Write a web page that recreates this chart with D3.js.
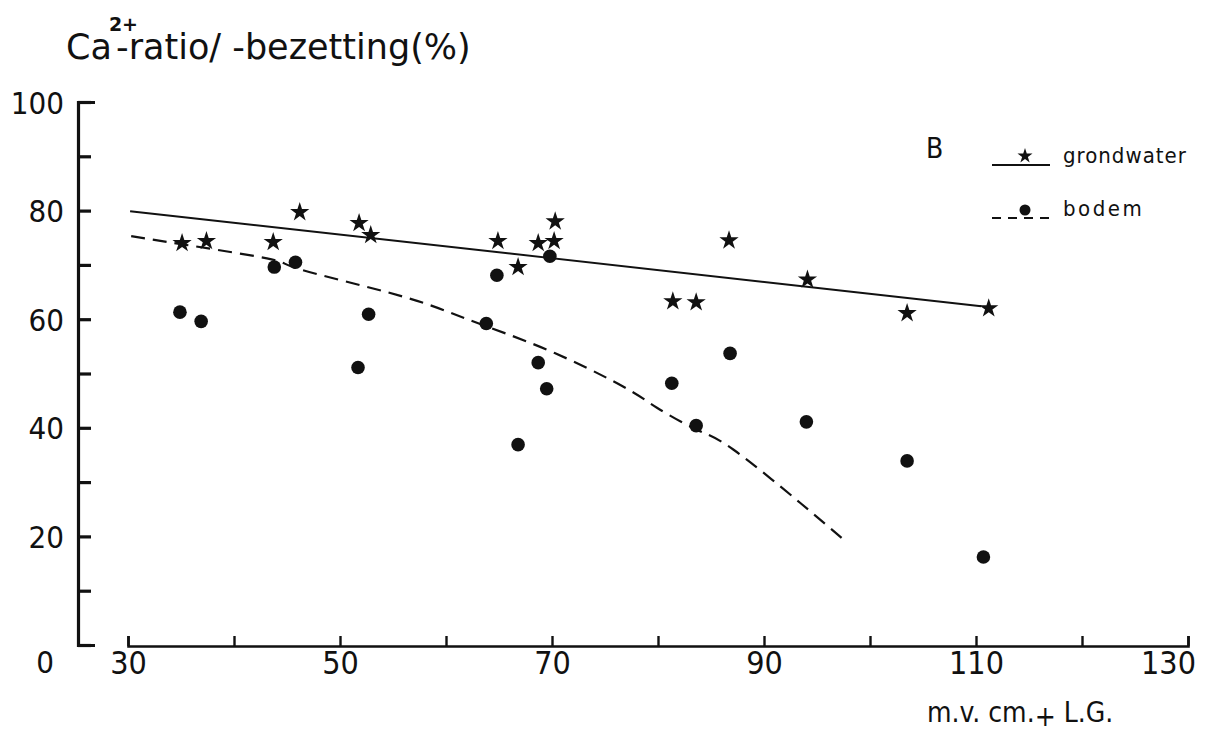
<!DOCTYPE html>
<html>
<head>
<meta charset="utf-8">
<script src="https://cdn.jsdelivr.net/npm/d3@7"></script>
<style>
    body { margin: 0; background: #fff; }
    svg { display: block; }
    .lbl { font-family: 'DejaVu Sans Condensed', 'Liberation Sans Narrow', sans-serif; fill: #111; }
    .ttl { font-family: 'DejaVu Sans', sans-serif; fill: #111; }
</style>
</head>
<body>
<div id="chart"></div>
<script>
    // grondwater (stars)
    let waterX = [35.1, 37.4, 43.7, 46.2, 51.8, 52.9, 64.9, 66.8, 68.7, 70.3, 70.2, 81.4, 83.6, 86.7, 94.1, 103.5, 111.2];
    let waterY = [74.0, 74.4, 74.2, 79.7, 77.7, 75.5, 74.4, 69.6, 74.0, 78.0, 74.4, 63.3, 63.1, 74.5, 67.3, 61.1, 62.0];
    // bodem (dots)
    let soilX = [34.9, 36.9, 43.8, 45.8, 52.7, 51.7, 63.8, 64.8, 66.8, 68.7, 69.5, 69.8, 81.3, 83.6, 86.8, 94.0, 103.5, 110.7];
    let soilY = [61.3, 59.6, 69.6, 70.5, 60.9, 51.1, 59.2, 68.1, 36.9, 52.0, 47.2, 71.6, 48.2, 40.4, 53.7, 41.1, 33.9, 16.2];
    // fitted lines as drawn
    let waterFitX = [30.2, 110.5];
    let waterFitY = [79.9, 62.4];
    let soilFitX = [30.3, 33.8, 43.1, 46.2, 55.7, 62.0, 69.5, 76.7, 79.9, 83.6, 87.1, 93.4, 97.4];
    let soilFitY = [75.3, 74.2, 71.2, 69.2, 64.3, 60.0, 54.4, 47.6, 43.7, 39.7, 36.0, 26.2, 19.6];
    let xTicks = [30, 40, 50, 60, 70, 80, 90, 100, 110, 120, 130];
    let yTicks = [0, 10, 20, 30, 40, 50, 60, 70, 80, 90, 100];

    let width = 1209, height = 735;
    let svg = d3.select('#chart')
        .append('svg')
        .attr('width', width)
        .attr('height', height);

    let x = d3.scaleLinear().domain([30, 130]).range([128, 1188]);
    let y = d3.scaleLinear().domain([0, 100]).range([645, 102]);

    // y axis: ticks point inward, labels on the left
    let yAxis = svg.append('g')
        .attr('transform', 'translate(78,0)')
        .call(d3.axisLeft(y)
            .tickValues(yTicks)
            .tickSizeInner(-13)
            .tickSizeOuter(-17)
            .tickPadding(14)
            .tickFormat(d => d % 20 === 0 ? d : ''));
    yAxis.select('.domain').attr('stroke', '#111').attr('stroke-width', 3.2).attr('fill', 'none');
    yAxis.selectAll('.tick line').attr('stroke', '#111').attr('stroke-width', 3.2);
    yAxis.selectAll('.tick text')
        .attr('class', 'lbl')
        .attr('font-size', 31)
        .attr('dx', d => d === 0 ? -10 : 0)
        .attr('dy', d => d === 0 ? '0.9em' : '0.36em');
    yAxis.attr('font-family', null);

    // x axis: ticks point up
    let xAxis = svg.append('g')
        .attr('transform', 'translate(0,646)')
        .call(d3.axisBottom(x)
            .tickValues(xTicks)
            .tickSizeInner(-10)
            .tickSizeOuter(-10)
            .tickPadding(5)
            .tickFormat(d => (d - 30) % 20 === 0 ? d : ''));
    xAxis.select('.domain').attr('stroke', '#111').attr('stroke-width', 2.6).attr('fill', 'none');
    xAxis.selectAll('.tick line').attr('stroke', '#111').attr('stroke-width', 2.4);
    xAxis.selectAll('.tick text')
        .attr('class', 'lbl')
        .attr('font-size', 32)
        .attr('dx', d => d === 130 ? -20 : 0);
    xAxis.attr('font-family', null);

    // fitted lines
    let line = d3.line()
        .x(d => x(d[0]))
        .y(d => y(d[1]));
    svg.append('path')
        .datum(d3.zip(waterFitX, waterFitY))
        .attr('d', line)
        .attr('fill', 'none')
        .attr('stroke', '#111')
        .attr('stroke-width', 2);
    svg.append('path')
        .datum(d3.zip(soilFitX, soilFitY))
        .attr('d', line.curve(d3.curveNatural))
        .attr('fill', 'none')
        .attr('stroke', '#111')
        .attr('stroke-width', 2.2)
        .attr('stroke-dasharray', '14,8');

    // markers
    let star = d3.symbol().type(d3.symbolStar).size(115);
    svg.selectAll('.water')
        .data(d3.zip(waterX, waterY))
        .enter()
        .append('path')
        .attr('class', 'water')
        .attr('d', star)
        .attr('transform', d => 'translate(' + x(d[0]) + ',' + y(d[1]) + ')')
        .attr('fill', '#111');
    svg.selectAll('.soil')
        .data(d3.zip(soilX, soilY))
        .enter()
        .append('circle')
        .attr('class', 'soil')
        .attr('cx', d => x(d[0]))
        .attr('cy', d => y(d[1]))
        .attr('r', 6.8)
        .attr('fill', '#111');

    // title
    let title = svg.append('text')
        .attr('class', 'ttl')
        .attr('x', 66)
        .attr('y', 59)
        .attr('font-size', 35);
    title.append('tspan').text('Ca');
    title.append('tspan').attr('dy', -28).attr('dx', -3).attr('font-size', 19).attr('font-weight', 'bold').text('2+');
    title.append('tspan').attr('dy', 28).attr('dx', -22).text('-ratio/ -bezetting(%)');

    // x axis label
    let xl = svg.append('text')
        .attr('class', 'lbl')
        .attr('x', 927)
        .attr('y', 722)
        .attr('font-size', 28);
    xl.append('tspan').text('m.v. cm.');
    xl.append('tspan').attr('dy', 4).text('+');
    xl.append('tspan').attr('dy', -4).text(' L.G.');

    // panel letter and legend
    svg.append('text')
        .attr('class', 'lbl')
        .attr('x', 926)
        .attr('y', 158)
        .attr('font-size', 28)
        .text('B');
    let legend = [
        { label: 'grondwater', y: 165, dash: null, mark: 'star', spacing: 1 },
        { label: 'bodem', y: 218, dash: '9,7', mark: 'dot', spacing: 2.5 }
    ];
    legend.forEach(l => {
        svg.append('line')
            .attr('x1', 992).attr('x2', 1050)
            .attr('y1', l.y).attr('y2', l.y)
            .attr('stroke', '#111')
            .attr('stroke-width', 2)
            .attr('stroke-dasharray', l.dash);
        if (l.mark === 'star') {
            svg.append('path')
                .attr('d', d3.symbol().type(d3.symbolStar).size(70)())
                .attr('transform', 'translate(1025,' + (l.y - 9) + ')')
                .attr('fill', '#111');
        } else {
            svg.append('circle')
                .attr('cx', 1025).attr('cy', l.y - 8)
                .attr('r', 5.5)
                .attr('fill', '#111');
        }
        svg.append('text')
            .attr('class', 'lbl')
            .attr('x', 1063)
            .attr('y', l.y - 2)
            .attr('font-size', 22)
            .attr('letter-spacing', l.spacing)
            .text(l.label);
    });
</script>
</body>
</html>
